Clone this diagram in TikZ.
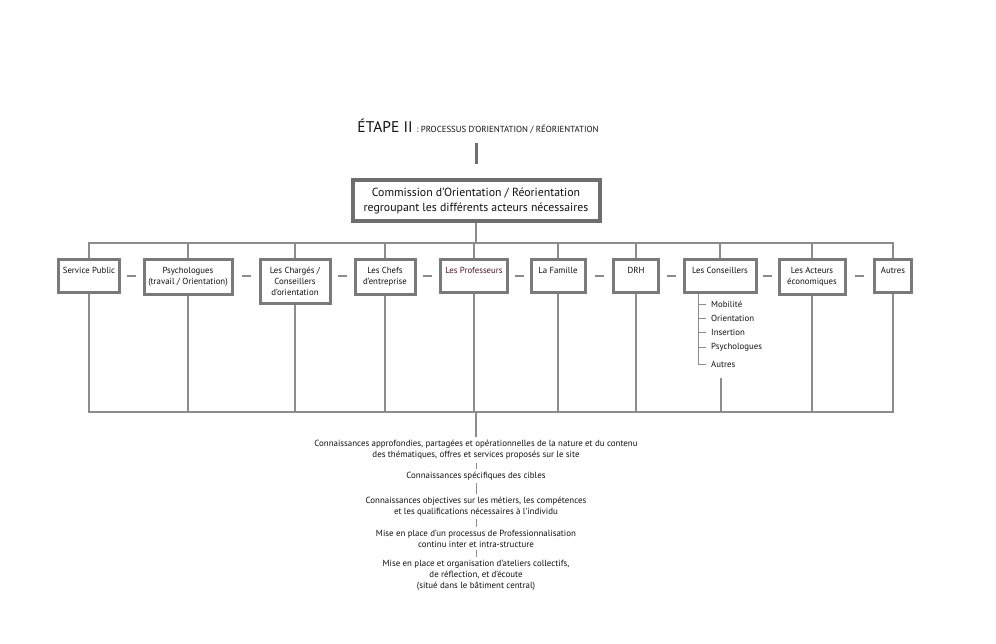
\documentclass[tikz,border=0pt]{standalone}
\usepackage{fontspec}
\setmainfont{PT Sans}
\usetikzlibrary{calc,positioning}
\definecolor{bxgray}{HTML}{7A7A7A}
\definecolor{lngray}{HTML}{8C8C8C}
\definecolor{txt}{HTML}{111111}
\tikzset{
  act/.style={draw=bxgray,line width=3pt,anchor=north,align=center,text=txt,
    font=\fontsize{8.8}{11}\selectfont,inner xsep=2pt,inner ysep=8pt},
  ln/.style={draw=lngray,line width=1.2pt},
  sub/.style={anchor=west,inner sep=1pt,text=txt,font=\fontsize{8.8}{9}\selectfont},
  know/.style={align=center,inner sep=3pt,text=txt,font=\fontsize{8.9}{11}\selectfont}
}
\begin{document}
\begin{tikzpicture}[x=1pt,y=-1pt]
\useasboundingbox[fill=white] (0,0) rectangle (996,643);
\node[text=txt,anchor=base] (ttl) at (478,132) {\fontsize{15.5}{17}\selectfont ÉTAPE II {\fontsize{8.8}{10}\selectfont : PROCESSUS D'ORIENTATION / RÉORIENTATION}};
\node[draw=bxgray!90!black,line width=4pt,anchor=north,minimum width=247,minimum height=41,align=center,text=txt,font=\fontsize{11.8}{15}\selectfont] (com) at (476,178) {Commission d'Orientation / Réorientation\\regroupant les différents acteurs nécessaires};
\draw[draw=bxgray!90!black,line width=3pt,shorten <=6,shorten >=14] (ttl.south -| com.north) -- (com.north);
\node[act,minimum width=61] (sp) at (89,258) {Service Public\\\phantom{x}};
\node[act,minimum width=88] (psy) at (188,258) {Psychologues\\(travail / Orientation)};
\node[act,minimum width=70] (chg) at (295,258) {Les Chargés /\\Conseillers\\d'orientation};
\node[act,minimum width=60] (chf) at (385,258) {Les Chefs\\d'entreprise};
\node[act,minimum width=67,text={rgb,255:red,80;green,25;blue,35}] (prof) at (474,258) {Les Professeurs\\\phantom{x}};
\node[act,minimum width=54] (fam) at (558,258) {La Famille\\\phantom{x}};
\node[act,minimum width=45] (drh) at (636,258) {DRH\\\phantom{x}};
\node[act,minimum width=72] (cons) at (720,258) {Les Conseillers\\\phantom{x}};
\node[act,minimum width=66] (eco) at (812,258) {Les Acteurs\\économiques};
\node[act,minimum width=37] (aut) at (893,258) {Autres\\\phantom{x}};
\coordinate (top) at (476,243);
\coordinate (bot) at (476,412);
\draw[ln] (com.south) -- (top);
\foreach \n in {sp,psy,chg,chf,prof,fam,drh,cons,eco,aut}
  \draw[ln] (\n.north) |- (top);
\foreach \n in {sp,psy,chg,chf,prof,fam,drh,eco,aut}
  \draw[ln] (\n.south) |- (bot);
\coordinate (c1) at (721,378);
\draw[ln] (c1) |- (bot);
\foreach \a/\b in {sp/psy,psy/chg,chg/chf,chf/prof,prof/fam,fam/drh,drh/cons,cons/eco,eco/aut}
  \draw[ln] ($(\a.north east)!.5!(\b.north west)+(-4.5,18)$) -- ++(9,0);
\node[sub] (m1) at (710,304) {Mobilité};
\node[sub] (m2) at (710,318) {Orientation};
\node[sub] (m3) at (710,332) {Insertion};
\node[sub] (m4) at (710,347) {Psychologues};
\node[sub] (m5) at (710,364) {Autres};
\coordinate (s0) at ($(cons.south west)+(16,0)$);
\draw[ln,line width=.9pt,shorten >=4] (s0) |- (m5.west);
\foreach \m in {m1,m2,m3,m4}
  \draw[ln,line width=.9pt,shorten >=4] (s0 |- \m.west) -- (\m.west);
\node[know] (k1) at (476,450) {Connaissances approfondies, partagées et opérationnelles de la nature et du contenu\\des thématiques, offres et services proposés sur le site};
\node[know] (k2) at (476,476) {Connaissances spécifiques des cibles};
\node[know] (k3) at (476,506.5) {Connaissances objectives sur les métiers, les compétences\\et les qualifications nécessaires à l'individu};
\node[know] (k4) at (476,538.5) {Mise en place d'un processus de Professionnalisation\\continu inter et intra-structure};
\node[know] (k5) at (476,575) {Mise en place et organisation d'ateliers collectifs,\\de réflection, et d'écoute\\(situé dans le bâtiment central)};
\draw[ln] (bot) -- (k1.north);
\foreach \a/\b in {k1/k2,k2/k3,k3/k4,k4/k5}
  \draw[ln,line width=.8pt] (\a.south) -- (\b.north);
\end{tikzpicture}
\end{document}
